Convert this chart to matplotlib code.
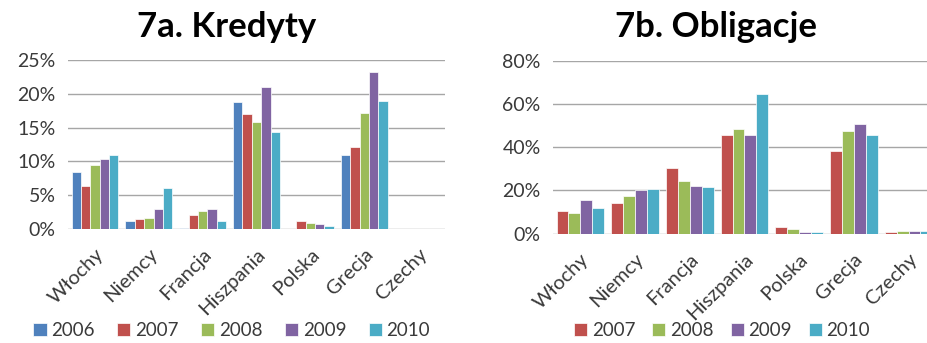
import numpy as np
import matplotlib.pyplot as plt
from matplotlib.ticker import FuncFormatter

plt.rcParams['font.family'] = ['Lato', 'DejaVu Sans']

# categories and series
countries = ['Włochy', 'Niemcy', 'Francja', 'Hiszpania', 'Polska', 'Grecja', 'Czechy']

# 7a. Kredyty (%)
kred_years = ['2006', '2007', '2008', '2009', '2010']
kred_2006 = [8.5, 1.2, 0.2, 18.8, np.nan, 11.0, np.nan]
kred_2007 = [6.3, 1.5, 2.0, 17.0, 1.2, 12.2, np.nan]
kred_2008 = [9.4, 1.6, 2.6, 15.8, 0.85, 17.1, np.nan]
kred_2009 = [10.3, 3.0, 2.9, 21.0, 0.7, 23.2, np.nan]
kred_2010 = [10.9, 6.1, 1.2, 14.3, 0.5, 18.9, np.nan]

# 7b. Obligacje (%)
obl_years = ['2007', '2008', '2009', '2010']
obl_2007 = [10.6, 14.3, 30.5, 45.8, 3.2, 38.4, 0.8]
obl_2008 = [9.7, 17.6, 24.3, 48.5, 2.3, 47.6, 1.2]
obl_2009 = [15.6, 20.2, 22.2, 45.8, 0.6, 50.8, 1.2]
obl_2010 = [12.0, 20.8, 21.6, 64.7, 0.9, 45.8, 1.2]

colors = {'2006': '#4F81BD', '2007': '#C0504D', '2008': '#9BBB59',
          '2009': '#8064A2', '2010': '#4BACC6'}
text_col = '#3a3a3a'


def grouped(ax, series, years, ymax, step):
    x = np.arange(len(countries))
    n = len(series)
    group = 0.87
    w = group / n
    handles = []
    for i, (vals, yr) in enumerate(zip(series, years)):
        b = ax.bar(x - group / 2 + w * (i + 0.5), vals, width=w,
                   color=colors[yr], edgecolor='white', linewidth=0.5,
                   label=yr, zorder=3)
        handles.append(b)
    ax.set_xlim(-0.5, len(countries) - 0.5)
    ax.set_ylim(0, ymax)
    ax.set_yticks(np.arange(0, ymax + 0.1, step))
    ax.yaxis.set_major_formatter(FuncFormatter(lambda v, p: f'{v:.0f}%'))
    ax.grid(axis='y', color='#a6a6a6', linewidth=1.0, zorder=0)
    ax.set_axisbelow(True)
    for s in ax.spines.values():
        s.set_visible(False)
    ax.tick_params(length=0, labelsize=14, colors=text_col, pad=9)
    ax.set_xticks(x)
    ax.set_xticklabels(countries, rotation=45, ha='right',
                       rotation_mode='anchor', fontsize=14.5)
    ax.tick_params(axis='x', pad=12)
    return handles


fig = plt.figure(figsize=(9.27, 3.43), dpi=100)

ax1 = fig.add_axes([0.0734, 0.3324, 0.4067, 0.4927])
h1 = grouped(ax1, [kred_2006, kred_2007, kred_2008, kred_2009, kred_2010],
             kred_years, 25, 5)
fig.text(0.244, 0.92, '7a. Kredyty', ha='center', va='center',
         fontsize=25, fontweight='bold', color='black')
fig.legend(handles=h1, labels=kred_years, loc='center',
           bbox_to_anchor=(0.25, 0.035), ncol=5, frameon=False,
           fontsize=13.5, handlelength=0.7, handleheight=0.7,
           handletextpad=0.25, columnspacing=1.2, labelcolor=text_col,
           borderpad=0)

ax2 = fig.add_axes([0.5966, 0.3187, 0.413, 0.504])
h2 = grouped(ax2, [obl_2007, obl_2008, obl_2009, obl_2010],
             obl_years, 80, 20)
fig.text(0.772, 0.92, '7b. Obligacje', ha='center', va='center',
         fontsize=25, fontweight='bold', color='black')
fig.legend(handles=h2, labels=obl_years, loc='center',
           bbox_to_anchor=(0.779, 0.035), ncol=4, frameon=False,
           fontsize=13.5, handlelength=0.7, handleheight=0.7,
           handletextpad=0.25, columnspacing=0.9, labelcolor=text_col,
           borderpad=0)

fig.savefig('out.png', dpi=100, facecolor='white')
